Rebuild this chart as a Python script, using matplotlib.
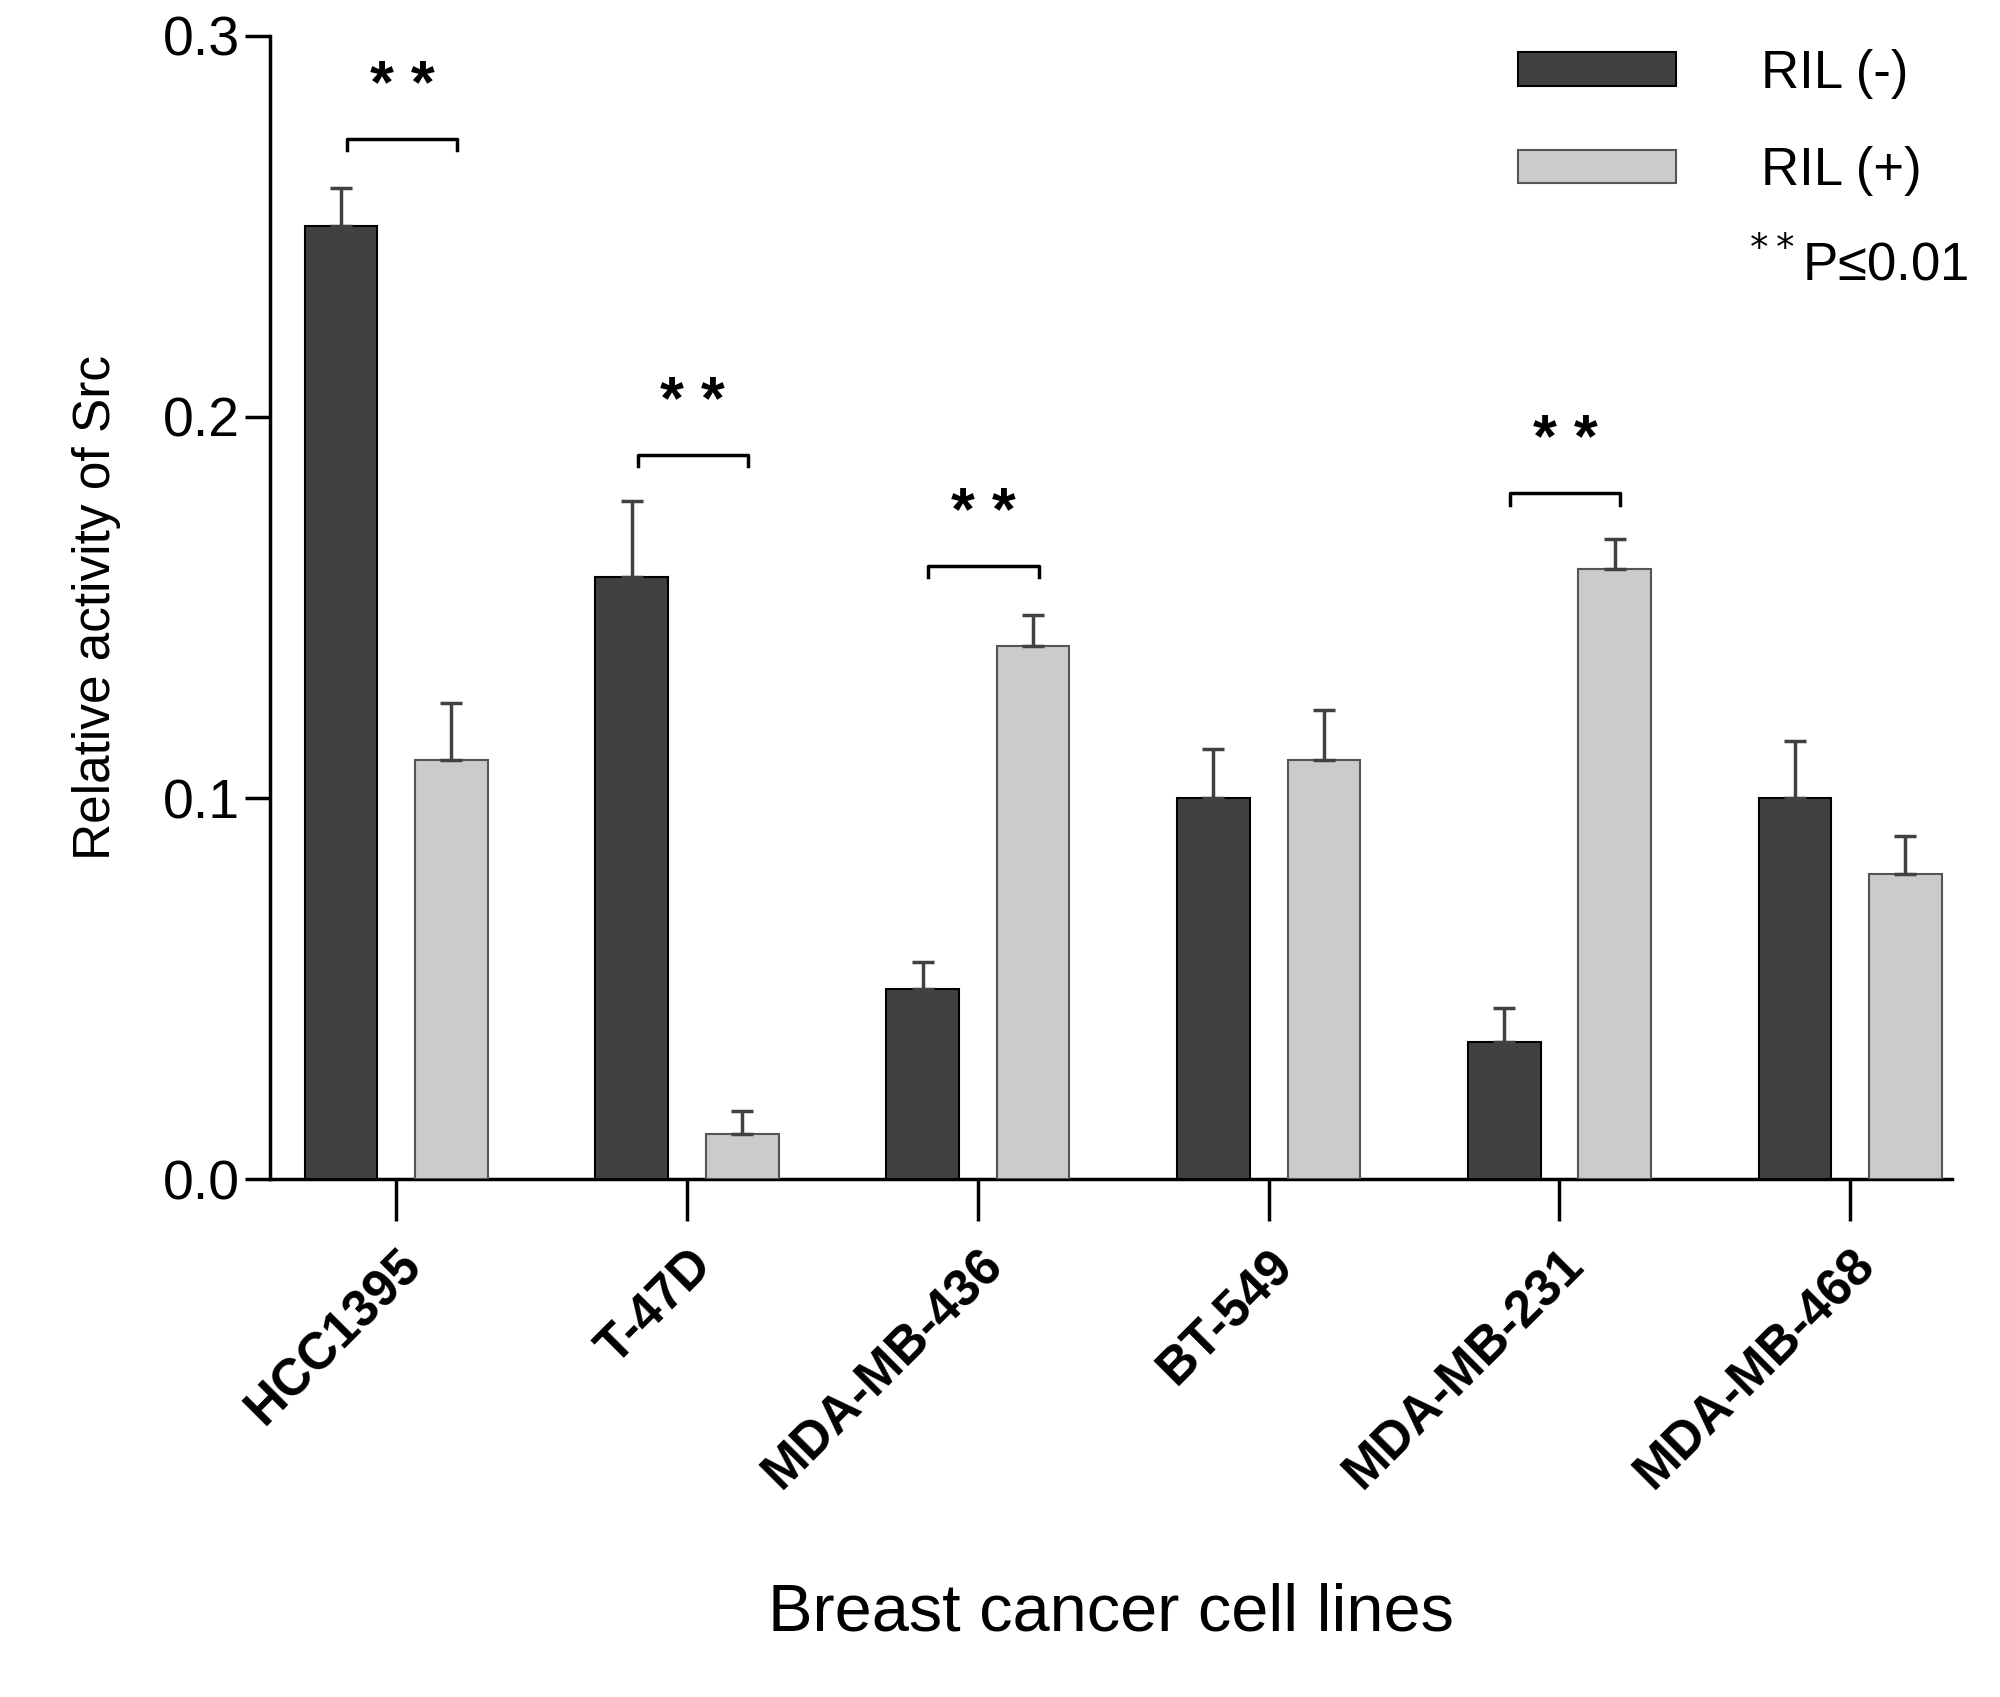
import numpy as np
import matplotlib
matplotlib.use("Agg")
import matplotlib.pyplot as plt

plt.rcParams["font.family"] = ["Liberation Sans", "DejaVu Sans"]

cell_lines = ["HCC1395", "T-47D", "MDA-MB-436", "BT-549", "MDA-MB-231", "MDA-MB-468"]
ril_minus = [0.250, 0.158, 0.050, 0.100, 0.036, 0.100]
ril_minus_err = [0.010, 0.020, 0.007, 0.013, 0.009, 0.015]
ril_plus = [0.110, 0.012, 0.140, 0.110, 0.160, 0.080]
ril_plus_err = [0.015, 0.006, 0.008, 0.013, 0.008, 0.010]
# significance brackets: (group index, bracket height)
sig_groups = [0, 1, 2, 4]
sig_heights = [0.273, 0.190, 0.161, 0.180]

dark, light = "#414141", "#cbcbcb"
x = np.arange(len(cell_lines))
w, off = 0.25, 0.19

fig = plt.figure(figsize=(20, 16.97), dpi=100)
ax = fig.add_axes([0.135, 0.305, 0.841, 0.674])

n = len(x)
ax.bar(x - off, ril_minus, w, color=dark, edgecolor="black", linewidth=1.5,
       yerr=[[0] * n, ril_minus_err], error_kw=dict(ecolor=dark, elinewidth=2.5, capsize=8, capthick=2.5),
       label="RIL (-)", zorder=3)
ax.bar(x + off, ril_plus, w, color=light, edgecolor="#555555", linewidth=1.5,
       yerr=[[0] * n, ril_plus_err], error_kw=dict(ecolor=dark, elinewidth=2.5, capsize=8, capthick=2.5),
       label="RIL (+)", zorder=3)

for g, h in zip(sig_groups, sig_heights):
    x0, x1 = g - off + 0.02, g + off + 0.02
    ax.plot([x0, x0, x1, x1], [h - 0.003, h, h, h - 0.003], color="black", lw=2.5)
    ax.text(g + 0.02, h + 0.006, "* *", ha="center", va="bottom", fontsize=44, fontweight="bold")

ax.set_xlim(-0.434, 5.35)
ax.set_ylim(0, 0.3)
ax.set_yticks([0.0, 0.1, 0.2, 0.3])
ax.set_yticklabels(["0.0", "0.1", "0.2", "0.3"])
ax.set_xticks(x)
ax.set_xticklabels(cell_lines, rotation=45, ha="right", rotation_mode="anchor",
                   fontsize=37, fontweight="bold")
ax.tick_params(axis="y", labelsize=40, length=18, width=2.5)
ax.tick_params(axis="x", length=30, width=2.5, pad=14)
for s in ["top", "right"]:
    ax.spines[s].set_visible(False)
for s in ["left", "bottom"]:
    ax.spines[s].set_linewidth(2.5)

ax.set_ylabel("Relative activity of Src", fontsize=37, labelpad=30)
ax.set_xlabel("Breast cancer cell lines", fontsize=48, labelpad=60)

leg = ax.legend(loc="upper right", bbox_to_anchor=(1.01, 1.03), frameon=False, fontsize=38,
                handlelength=3.0, handleheight=0.6, handletextpad=1.6, labelspacing=0.9)
ax.text(1.01, 0.80, r"$^{**}$P≤0.01", transform=ax.transAxes, ha="right", va="center", fontsize=38)

fig.savefig("out.png", dpi=100)
